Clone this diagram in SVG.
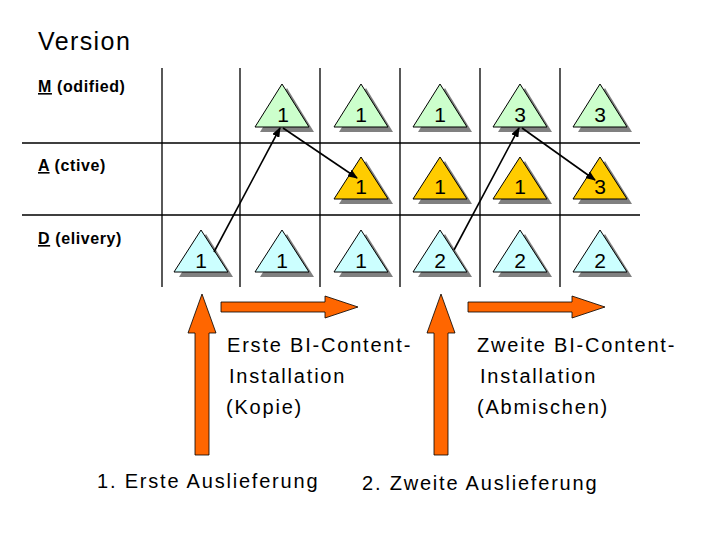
<svg xmlns="http://www.w3.org/2000/svg" width="720" height="540" viewBox="0 0 720 540">
<style>
text{font-family:"Liberation Sans",Arial,sans-serif;fill:#000}
.g{stroke:#000;stroke-width:1.3;fill:none}
.t{stroke:#000;stroke-width:1}
.sh{fill:#808080}
.m{fill:#ccffcc}.a{fill:#ffcc00}.d{fill:#ccffff}
.n{font-size:21px;text-anchor:middle}
.lb{font-size:16px;font-weight:bold;letter-spacing:0.6px}
.tx{font-size:20px;letter-spacing:1.8px}
.o{fill:#ff6600;stroke:#000;stroke-width:0.8}
.c{stroke:#000;stroke-width:1.6;fill:none;marker-end:url(#ah)}
</style>
<defs>
<marker id="ah" markerWidth="10" markerHeight="8" refX="9" refY="4" orient="auto" markerUnits="userSpaceOnUse"><path d="M0,0L10,4L0,8Z" fill="#000"/></marker>
</defs>
<rect width="720" height="540" fill="#fff"/>
<text x="38" y="50" style="font-size:25px;letter-spacing:1.4px">Version</text>
<g id="grid">
<path class="g" d="M22,143H640M22,215H640M162,68V287M240,68V287M320,68V287M400,68V287M480,68V287M560,68V287"/>
</g>
<g id="labels">
<text class="lb" x="38" y="92"><tspan text-decoration="underline">M</tspan> (odified)</text>
<text class="lb" x="38" y="171"><tspan text-decoration="underline">A</tspan> (ctive)</text>
<text class="lb" x="38" y="244"><tspan text-decoration="underline">D</tspan> (elivery)</text>
</g>
<g id="nodes">
<g id="m2"><path class="sh" d="M287,88L260,132L314,132Z"/><path class="t m" d="M282,84L255,127L309,127Z"/><text class="n" x="283" y="122">1</text></g>
<g id="m3"><path class="sh" d="M366,88L339,132L393,132Z"/><path class="t m" d="M361,84L334,127L388,127Z"/><text class="n" x="361" y="122">1</text></g>
<g id="m4"><path class="sh" d="M445,88L418,132L472,132Z"/><path class="t m" d="M440,84L413,127L467,127Z"/><text class="n" x="440" y="122">1</text></g>
<g id="m5"><path class="sh" d="M525,88L498,132L552,132Z"/><path class="t m" d="M520,84L493,127L547,127Z"/><text class="n" x="520" y="122">3</text></g>
<g id="m6"><path class="sh" d="M605,88L578,132L632,132Z"/><path class="t m" d="M600,84L573,127L627,127Z"/><text class="n" x="600" y="122">3</text></g>
<g id="a3"><path class="sh" d="M366,161L339,204L393,204Z"/><path class="t a" d="M361,157L334,199L388,199Z"/><text class="n" x="361" y="194">1</text></g>
<g id="a4"><path class="sh" d="M445,161L418,204L472,204Z"/><path class="t a" d="M440,157L413,199L467,199Z"/><text class="n" x="440" y="194">1</text></g>
<g id="a5"><path class="sh" d="M525,161L498,204L552,204Z"/><path class="t a" d="M520,157L493,199L547,199Z"/><text class="n" x="520" y="194">1</text></g>
<g id="a6"><path class="sh" d="M605,161L578,204L632,204Z"/><path class="t a" d="M600,157L573,199L627,199Z"/><text class="n" x="600" y="194">3</text></g>
<g id="d1"><path class="sh" d="M206,234L179,277L233,277Z"/><path class="t d" d="M201,230L174,272L228,272Z"/><text class="n" x="201" y="268">1</text></g>
<g id="d2"><path class="sh" d="M287,234L260,277L314,277Z"/><path class="t d" d="M282,230L255,272L309,272Z"/><text class="n" x="282" y="268">1</text></g>
<g id="d3"><path class="sh" d="M366,234L339,277L393,277Z"/><path class="t d" d="M361,230L334,272L388,272Z"/><text class="n" x="361" y="268">1</text></g>
<g id="d4"><path class="sh" d="M445,234L418,277L472,277Z"/><path class="t d" d="M440,230L413,272L467,272Z"/><text class="n" x="440" y="268">2</text></g>
<g id="d5"><path class="sh" d="M525,234L498,277L552,277Z"/><path class="t d" d="M520,230L493,272L547,272Z"/><text class="n" x="520" y="268">2</text></g>
<g id="d6"><path class="sh" d="M605,234L578,277L632,277Z"/><path class="t d" d="M600,230L573,272L627,272Z"/><text class="n" x="600" y="268">2</text></g>
</g>
<g id="connectors">
<path class="c" d="M214,252L280,128"/>
<path class="c" d="M283,128L357,178"/>
<path class="c" d="M454,250L519,128"/>
<path class="c" d="M522,128L595,180"/>
</g>
<g id="big-arrows">
<path class="o" d="M195,455V333H188L202,294L216,333H209V455Z"/>
<path class="o" d="M434,455V333H427L441,294L455,333H448V455Z"/>
<path class="o" d="M221,302H325V296L358,307L325,318V312H221Z"/>
<path class="o" d="M468,302H572V296L605,307L572,318V312H468Z"/>
</g>
<g id="texts">
<text class="tx" x="227" y="352">Erste BI-Content-</text>
<text class="tx" x="229" y="383">Installation</text>
<text class="tx" x="226" y="414">(Kopie)</text>
<text class="tx" x="477" y="352">Zweite BI-Content-</text>
<text class="tx" x="480" y="383">Installation</text>
<text class="tx" x="477" y="414">(Abmischen)</text>
<text class="tx" x="97" y="488">1. Erste Auslieferung</text>
<text class="tx" x="362" y="490">2. Zweite Auslieferung</text>
</g>
</svg>
